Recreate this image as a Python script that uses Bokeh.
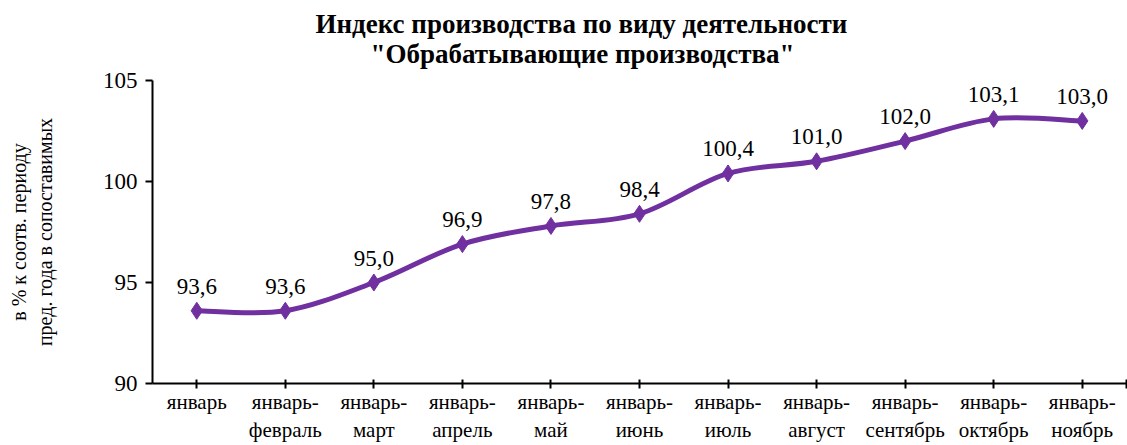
from bokeh.plotting import figure
from bokeh.models import ColumnDataSource, Title, FixedTicker, Range1d
from bokeh.embed import file_html
from bokeh.resources import INLINE
from bokeh.core.properties import value

categories = ["январь", "январь-\nфевраль", "январь-\nмарт", "январь-\nапрель", "январь-\nмай",
              "январь-\nиюнь", "январь-\nиюль", "январь-\nавгуст", "январь-\nсентябрь",
              "январь-\nоктябрь", "январь-\nноябрь"]
values = [93.6, 93.6, 95.0, 96.9, 97.8, 98.4, 100.4, 101.0, 102.0, 103.1, 103.0]
y_ticks = [90, 95, 100, 105]
title_lines = ["Индекс  производства по виду деятельности", "\"Обрабатывающие производства\""]
y_label = "в % к соотв. периоду\nпред. года в сопоставимых"

FONT = "Liberation Serif"
PURPLE = "#7030A0"

xs = list(range(len(values)))
labels = [f"{v:.1f}".replace(".", ",") for v in values]

p = figure(width=1127, height=445, output_backend="svg", toolbar_location=None, title=None,
           x_range=Range1d(-0.5, len(values) - 0.5), y_range=Range1d(90, 105),
           min_border_left=152, min_border_top=80, min_border_right=1, min_border_bottom=62)
p.outline_line_color = None
p.grid.visible = False
p.background_fill_color = "white"

# smoothed line (Catmull-Rom style bezier through the data points)
n = len(values)
x0, y0, x1, y1, cx0, cy0, cx1, cy1 = [], [], [], [], [], [], [], []
for i in range(n - 1):
    xp, yp = (xs[i - 1], values[i - 1]) if i > 0 else (xs[i], values[i])
    xn, yn = (xs[i + 2], values[i + 2]) if i + 2 < n else (xs[i + 1], values[i + 1])
    x0.append(xs[i]); y0.append(values[i]); x1.append(xs[i + 1]); y1.append(values[i + 1])
    cx0.append(xs[i] + (xs[i + 1] - xp) / 6); cy0.append(values[i] + (values[i + 1] - yp) / 6)
    cx1.append(xs[i + 1] - (xn - xs[i]) / 6); cy1.append(values[i + 1] - (yn - values[i]) / 6)
p.bezier(x0=x0, y0=y0, x1=x1, y1=y1, cx0=cx0, cy0=cy0, cx1=cx1, cy1=cy1,
         line_color=PURPLE, line_width=5)

src = ColumnDataSource(dict(x=xs, y=values, label=labels))
p.scatter("x", "y", source=src, marker="diamond", size=17, fill_color=PURPLE, line_color=PURPLE)
p.text("x", "y", text="label", source=src, text_font=value(FONT), text_font_size="23px",
       text_align="center", text_baseline="bottom", y_offset=-17, text_color="black")

# axes
p.xaxis.ticker = FixedTicker(ticks=xs + [len(values) - 0.5])
overrides = {i: c for i, c in enumerate(categories)}
overrides[len(values) - 0.5] = ""
p.xaxis.major_label_overrides = overrides
p.xaxis.major_tick_in = 4
p.xaxis.major_tick_out = 5
p.xaxis.minor_tick_line_color = None
p.xaxis.major_label_standoff = 1
p.xaxis.major_label_text_font = FONT
p.xaxis.major_label_text_font_size = "21px"
p.xaxis.major_label_text_color = "black"
p.xaxis.axis_line_width = 2
p.xaxis.major_tick_line_width = 2

p.yaxis.ticker = FixedTicker(ticks=y_ticks)
p.yaxis.major_tick_in = 0
p.yaxis.major_tick_out = 7
p.yaxis.minor_tick_line_color = None
p.yaxis.major_label_standoff = 8
p.yaxis.major_label_text_font = FONT
p.yaxis.major_label_text_font_size = "23px"
p.yaxis.major_label_text_color = "black"
p.yaxis.axis_line_width = 2
p.yaxis.major_tick_line_width = 2
p.yaxis.axis_label = y_label
p.yaxis.axis_label_text_font = FONT
p.yaxis.axis_label_text_font_style = "normal"
p.yaxis.axis_label_text_font_size = "20px"
p.yaxis.axis_label_text_color = "black"
p.yaxis.axis_label_standoff = 44

# title: two lines, outermost added last
p.add_layout(Title(text=title_lines[1], align="left", offset=218, text_font=FONT,
                   text_font_size="27px", text_font_style="bold", text_color="black",
                   standoff=24), "above")
p.add_layout(Title(text=title_lines[0], align="left", offset=163, text_font=FONT,
                   text_font_size="27px", text_font_style="bold", text_color="black",
                   standoff=-28), "above")

open("out.html", "w").write(file_html(p, INLINE))
